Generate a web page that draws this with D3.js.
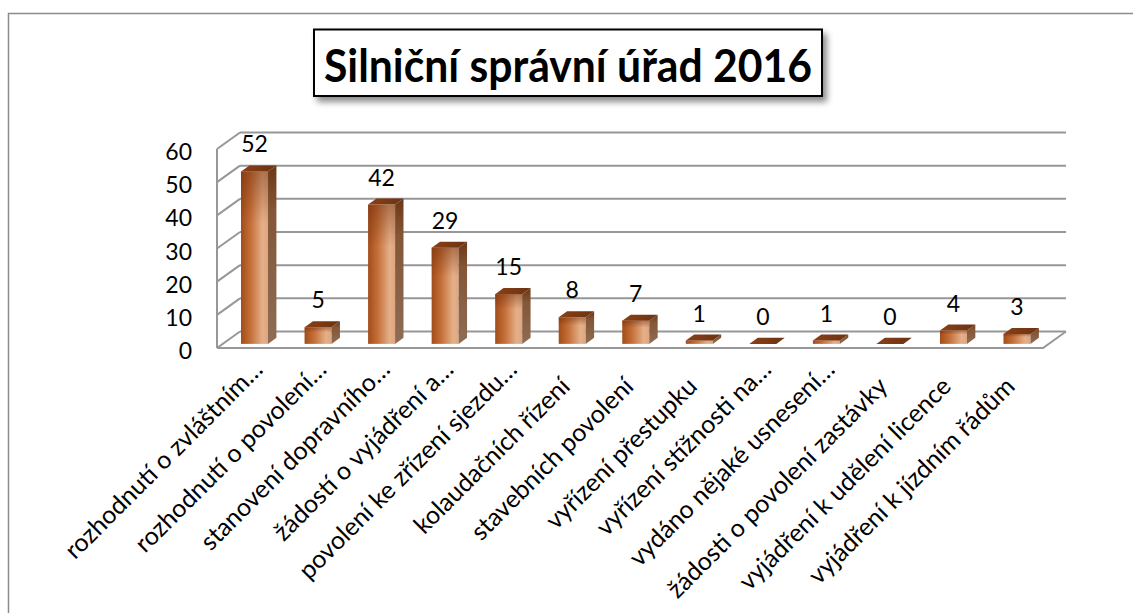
<!DOCTYPE html>
<html>
<head>
<meta charset="utf-8">
<script src="https://cdnjs.cloudflare.com/ajax/libs/d3/7.8.5/d3.min.js"></script>
<style>
  body { margin: 0; background: #fff; }
  svg { display: block; font-family: Lato, 'Open Sans', sans-serif; }
</style>
</head>
<body>
<svg id="chart"></svg>
<script>
const title = 'Silniční správní úřad 2016'
const categories = [
  'rozhodnutí o zvláštním…',
  'rozhodnutí o povolení…',
  'stanovení dopravního…',
  'žádostí o vyjádření a…',
  'povolení ke zřízení sjezdu…',
  'kolaudačních řízení',
  'stavebních povolení',
  'vyřízení přestupku',
  'vyřízení stížnosti na…',
  'vydáno nějaké usnesení…',
  'žádosti o povolení zastávky',
  'vyjádření k udělení licence',
  'vyjádření k jízdním řádům'
]
const values = [52, 5, 42, 29, 15, 8, 7, 1, 0, 1, 0, 4, 3]
const yTicks = [0, 10, 20, 30, 40, 50, 60]

const width = 1133
const height = 613

// front edge of the floor, and the shift from front to back wall
const floorLeft = 217
const floorRight = 1043
const depthX = 23
const depthY = -16.5

const x = d3.scaleBand()
  .domain(categories)
  .range([floorLeft, floorRight])
  .paddingInner(0.575)
  .paddingOuter(0.2875)

const y = d3.scaleLinear()
  .domain([0, 60])
  .range([348, 149])

function depth(d) {
  return [depthX * d, depthY * d]
}

function addGradients(svg) {
  const defs = svg.append('defs')

  const front = defs.append('linearGradient').attr('id', 'bar-front')
    .attr('x1', 0).attr('y1', 0).attr('x2', 1).attr('y2', 0)
  front.append('stop').attr('offset', '0%').attr('stop-color', '#a24c1a')
  front.append('stop').attr('offset', '35%').attr('stop-color', '#c46e38')
  front.append('stop').attr('offset', '80%').attr('stop-color', '#e5b089')
  front.append('stop').attr('offset', '100%').attr('stop-color', '#dda67e')

  const shade = defs.append('linearGradient').attr('id', 'bar-shade')
    .attr('x1', 0).attr('y1', 0).attr('x2', 0).attr('y2', 1)
  shade.append('stop').attr('offset', '0%').attr('stop-color', '#6a2a08').attr('stop-opacity', 0.45)
  shade.append('stop').attr('offset', '30%').attr('stop-color', '#6a2a08').attr('stop-opacity', 0)

  const side = defs.append('linearGradient').attr('id', 'bar-side')
    .attr('x1', 0).attr('y1', 0).attr('x2', 0).attr('y2', 1)
  side.append('stop').attr('offset', '0%').attr('stop-color', '#6c3716')
  side.append('stop').attr('offset', '25%').attr('stop-color', '#835636')
  side.append('stop').attr('offset', '100%').attr('stop-color', '#8e6c55')

  const top = defs.append('linearGradient').attr('id', 'bar-top')
    .attr('x1', 0).attr('y1', 0).attr('x2', 1).attr('y2', 0)
  top.append('stop').attr('offset', '0%').attr('stop-color', '#8a4015')
  top.append('stop').attr('offset', '100%').attr('stop-color', '#6b3312')

  const shadow = defs.append('filter').attr('id', 'title-shadow')
    .attr('x', '-10%').attr('y', '-30%').attr('width', '130%').attr('height', '180%')
  shadow.append('feDropShadow')
    .attr('dx', 4).attr('dy', 5).attr('stdDeviation', 3)
    .attr('flood-color', '#000').attr('flood-opacity', 0.45)
}

function drawFrame(svg) {
  svg.append('path')
    .attr('d', `M8.5,${height} L8.5,13.5 L${width},13.5`)
    .attr('fill', 'none')
    .attr('stroke', '#8c8c8c')
    .attr('stroke-width', 1.5)
}

function drawTitle(svg) {
  const g = svg.append('g').attr('class', 'title')
  g.append('rect')
    .attr('x', 314).attr('y', 29.5)
    .attr('width', 508).attr('height', 66.5)
    .attr('fill', '#fff')
    .attr('stroke', '#000')
    .attr('stroke-width', 2)
    .attr('filter', 'url(#title-shadow)')
  g.append('text')
    .attr('x', 568).attr('y', 82)
    .attr('text-anchor', 'middle')
    .attr('font-size', 46)
    .attr('font-weight', 'bold')
    .attr('textLength', 488)
    .attr('lengthAdjust', 'spacingAndGlyphs')
    .text(title)
}

function drawWalls(svg) {
  const g = svg.append('g').attr('class', 'walls')
  const [bx, by] = depth(1)
  yTicks.forEach(t => {
    // side wall
    g.append('line')
      .attr('x1', floorLeft).attr('y1', y(t))
      .attr('x2', floorLeft + bx).attr('y2', y(t) + by)
    // back wall
    g.append('line')
      .attr('x1', floorLeft + bx).attr('y1', y(t) + by)
      .attr('x2', floorRight + bx).attr('y2', y(t) + by)
  })
  g.append('line')
    .attr('x1', floorLeft).attr('y1', y(0))
    .attr('x2', floorLeft).attr('y2', y(60))
  g.append('polyline')
    .attr('points', [[floorLeft, y(0)], [floorRight, y(0)], [floorRight + bx, y(0) + by]].join(' '))
  g.selectAll('line, polyline')
    .attr('fill', 'none')
    .attr('stroke', '#979797')
    .attr('stroke-width', 2)
}

function drawYTicks(svg) {
  svg.append('g').attr('class', 'y-ticks')
    .selectAll('text')
    .data(yTicks)
    .join('text')
    .attr('x', 192)
    .attr('y', d => y(d) + 2)
    .attr('text-anchor', 'end')
    .attr('dominant-baseline', 'central')
    .attr('font-size', 23)
    .attr('fill', '#000')
    .text(d => d)
}

function drawBars(svg) {
  const bw = x.bandwidth()
  const [fx, fy] = depth(0.25)
  const [bx, by] = depth(0.365)
  const data = categories.map((c, i) => ({ name: c, value: values[i] }))

  const bars = svg.append('g').attr('class', 'bars')
    .selectAll('g')
    .data(data)
    .join('g')

  bars.each(function(d) {
    const g = d3.select(this)
    const x0 = x(d.name) + fx
    const x1 = x0 + bw
    const yTop = y(d.value) + fy
    const yBot = y(0) + fy

    if (d.value > 0) {
      g.append('rect')
        .attr('x', x0).attr('y', yTop)
        .attr('width', bw).attr('height', yBot - yTop)
        .attr('fill', 'url(#bar-front)')
      g.append('rect')
        .attr('x', x0).attr('y', yTop)
        .attr('width', bw).attr('height', yBot - yTop)
        .attr('fill', 'url(#bar-shade)')
      g.append('polygon')
        .attr('points', [[x1, yTop], [x1 + bx, yTop + by], [x1 + bx, yBot + by], [x1, yBot]].join(' '))
        .attr('fill', 'url(#bar-side)')
    }
    g.append('polygon')
      .attr('points', [[x0, yTop], [x0 + bx, yTop + by], [x1 + bx, yTop + by], [x1, yTop]].join(' '))
      .attr('fill', 'url(#bar-top)')

    // value label
    g.append('text')
      .attr('x', x0 + bw / 2)
      .attr('y', yTop + by - 13)
      .attr('text-anchor', 'middle')
      .attr('font-size', 23)
      .attr('fill', '#000')
      .text(d.value)
  })
}

function drawCategoryLabels(svg) {
  const bw = x.bandwidth()
  // truncated labels sit a little further along and higher, like in Excel
  svg.append('g').attr('class', 'x-labels')
    .selectAll('text')
    .data(categories)
    .join('text')
    .attr('transform', d => `translate(${x(d) + bw / 2 + 5},388) rotate(-45)`)
    .attr('x', d => d.endsWith('…') ? 19.5 : 0)
    .attr('y', d => d.endsWith('…') ? -4.5 : 0)
    .attr('text-anchor', 'end')
    .attr('font-size', 25)
    .attr('fill', '#000')
    .text(d => d)
}

const svg = d3.select('#chart')
  .attr('width', width)
  .attr('height', height)

svg.append('rect').attr('width', width).attr('height', height).attr('fill', '#fff')
addGradients(svg)
drawFrame(svg)
drawTitle(svg)
drawWalls(svg)
drawYTicks(svg)
drawBars(svg)
drawCategoryLabels(svg)
</script>
</body>
</html>
